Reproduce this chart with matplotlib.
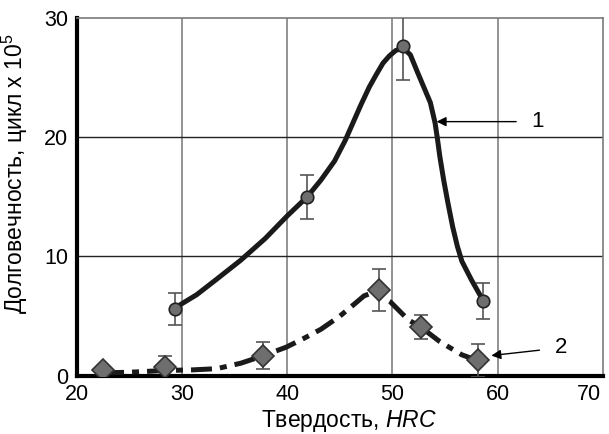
import matplotlib
matplotlib.use("Agg")
import matplotlib.pyplot as plt
from matplotlib.transforms import ScaledTranslation

# measured points with error bars
hrc_1 = [29.3, 41.9, 51.0, 58.6]
life_1 = [5.6, 15.0, 27.6, 6.3]
err_1 = [1.3, 1.85, 2.8, 1.5]

hrc_2 = [22.5, 28.4, 37.7, 48.7, 52.7, 58.1]
life_2 = [0.5, 0.75, 1.7, 7.2, 4.1, 1.3]
err_2 = [0.0, 0.95, 1.1, 1.75, 1.0, 1.4]

# hand-drawn trend curves
curve1_x = [29.35, 31.4, 33.3, 35.6, 37.9, 40.0, 41.9, 43.2, 44.5, 45.5, 46.1,
            47.0, 47.8, 48.5, 49.1, 49.7, 50.3, 51.0, 51.7, 52.4, 53.6, 54.05,
            54.27, 54.5, 54.87, 55.27, 55.72, 56.17, 56.6, 57.5, 58.56]
curve1_y = [5.7, 6.8, 8.1, 9.7, 11.5, 13.4, 15.0, 16.4, 18.0, 19.7, 20.9,
            22.7, 24.2, 25.3, 26.2, 26.8, 27.25, 27.5, 26.9, 25.4, 22.9, 21.2,
            19.9, 18.4, 16.4, 14.5, 12.5, 10.85, 9.6, 8.05, 6.4]

curve2_x = [22.5, 25.0, 28.4, 31.0, 33.3, 35.6, 37.7, 39.9, 41.5, 43.2, 45.0,
            46.5, 47.3, 47.9, 48.6, 49.8, 51.5, 52.7, 54.5, 56.6, 58.1]
curve2_y = [0.25, 0.3, 0.45, 0.5, 0.6, 1.06, 1.68, 2.4, 3.1, 3.9, 5.0,
            6.1, 6.7, 6.9, 6.8, 6.2, 4.7, 4.08, 2.87, 1.76, 1.28]

x_ticks = [20, 30, 40, 50, 60, 70]
y_ticks = [0, 10, 20, 30]

plt.rcParams["font.family"] = ["Liberation Sans", "DejaVu Sans"]
plt.rcParams["mathtext.fontset"] = "custom"
plt.rcParams["mathtext.rm"] = "Liberation Sans"
plt.rcParams["mathtext.it"] = "Liberation Sans:italic"

fig = plt.figure(figsize=(6.09, 4.34), dpi=100)
ax = fig.add_axes([0.126, 0.134, 0.864, 0.825])

ax.set_xlim(20, 70)
ax.set_ylim(0, 30)
ax.set_xticks(x_ticks)
ax.set_yticks(y_ticks)

for x in x_ticks[1:-1]:
    ax.axvline(x, color="#8a8a8a", lw=1.3, zorder=1)
for y in y_ticks[1:-1]:
    ax.axhline(y, color="#222222", lw=1.0, zorder=1)

ax.plot(curve1_x, curve1_y, color="#1a1a1a", lw=3.6, solid_capstyle="round",
        solid_joinstyle="round", zorder=3)
ax.plot(curve2_x, curve2_y, color="#1a1a1a", lw=3.6, dashes=(4.2, 1.6, 1.4, 1.6),
        zorder=3)

ax.errorbar(hrc_1, life_1, yerr=err_1, fmt="o", ms=9, mfc="#6e6e6e", mec="#222222",
            mew=1.2, ecolor="#555555", elinewidth=1.2, capsize=5, capthick=1.2,
            zorder=4)
ax.errorbar(hrc_2, life_2, yerr=err_2, fmt="D", ms=11.5, mfc="#6e6e6e", mec="#333333",
            mew=1.2, ecolor="#555555", elinewidth=1.2, capsize=5, capthick=1.2,
            zorder=4)

ax.annotate("1", xy=(54.2, 21.3), xytext=(63.8, 21.3), fontsize=16,
            ha="center", va="center",
            arrowprops=dict(arrowstyle="-|>", color="black", lw=1.0,
                            mutation_scale=14, shrinkA=9, shrinkB=0))
ax.annotate("2", xy=(59.4, 1.7), xytext=(66.0, 2.35), fontsize=16,
            ha="center", va="center",
            arrowprops=dict(arrowstyle="-|>", color="black", lw=1.0,
                            mutation_scale=14, shrinkA=9, shrinkB=0))

for side in ("left", "bottom"):
    ax.spines[side].set_linewidth(3.0)
    ax.spines[side].set_color("black")
for side in ("top", "right"):
    ax.spines[side].set_linewidth(1.2)
    ax.spines[side].set_color("#7a7a7a")

ax.tick_params(length=0, labelsize=15.5, pad=6)
# last x label sits a little inside the frame, as in the source figure
last = ax.get_xticklabels()[-1]
last.set_transform(last.get_transform() + ScaledTranslation(-10 / 72, 0, fig.dpi_scale_trans))

ax.set_xlabel(r"Твердость, $\it{HRC}$", fontsize=16.5)
ax.set_ylabel(r"Долговечность, цикл x 10$^5$", fontsize=16.5)
ax.xaxis.set_label_coords(0.517, -0.09)
ax.yaxis.set_label_coords(-0.088, 0.565)

fig.savefig("out.png", dpi=100)
